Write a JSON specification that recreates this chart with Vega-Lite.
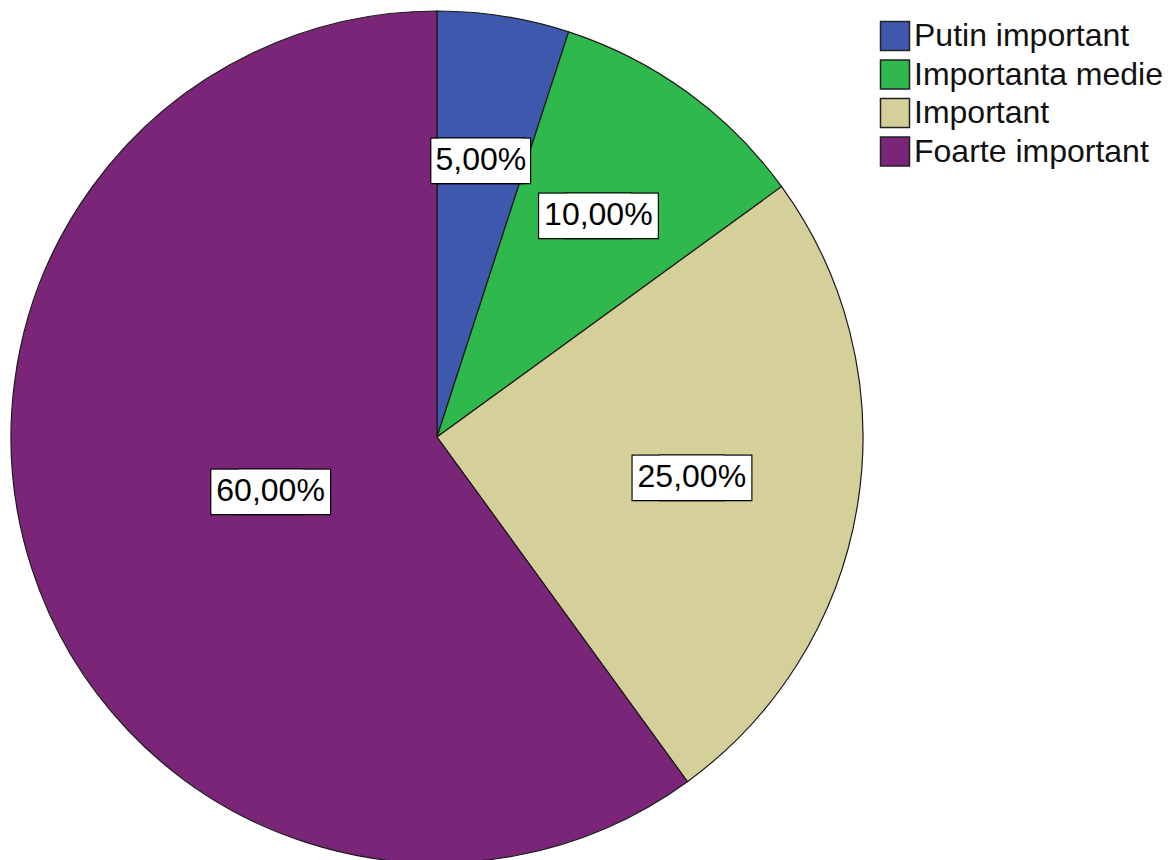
{
  "$schema": "https://vega.github.io/schema/vega-lite/v6.json",
  "width": 874,
  "height": 874,
  "padding": 0,
  "autosize": {"type": "pad"},
  "background": "white",
  "config": {"view": {"stroke": null}},
  "data": {
    "values": [
      {"categorie": "Putin important", "procent": 5, "eticheta": "5,00%", "ordine": 1},
      {"categorie": "Importanta medie", "procent": 10, "eticheta": "10,00%", "ordine": 2},
      {"categorie": "Important", "procent": 25, "eticheta": "25,00%", "ordine": 3},
      {"categorie": "Foarte important", "procent": 60, "eticheta": "60,00%", "ordine": 4}
    ]
  },
  "encoding": {
    "theta": {"field": "procent", "type": "quantitative", "stack": true},
    "order": {"field": "ordine", "type": "quantitative"}
  },
  "layer": [
    {
      "mark": {"type": "arc", "outerRadius": 426, "stroke": "#1a1a1a", "strokeWidth": 1.2},
      "encoding": {
        "color": {
          "field": "categorie",
          "type": "nominal",
          "scale": {
            "domain": ["Putin important", "Importanta medie", "Important", "Foarte important"],
            "range": ["#3d58ac", "#2fb84b", "#d5cf9a", "#7a2577"]
          },
          "legend": {
            "title": null,
            "orient": "none",
            "legendX": 879,
            "legendY": 20,
            "symbolType": "square",
            "symbolSize": 841,
            "symbolStrokeColor": "#222222",
            "symbolStrokeWidth": 1.5,
            "labelFont": "Liberation Sans",
            "labelFontSize": 32,
            "labelColor": "#111111",
            "labelLimit": 0,
            "labelOffset": 3,
            "rowPadding": 2.5
          }
        }
      }
    },
    {
      "encoding": {
        "radius": {"field": "procent", "type": "quantitative", "scale": {"type": "linear", "domain": [5, 25, 60], "range": [280, 258, 175], "zero": false}},
        "opacity": {"condition": {"test": "datum.procent != 5", "value": 1}, "value": 0}
      },
      "layer": [
        {"mark": {"type": "text", "text": "▬", "font": "DejaVu Sans", "fontSize": 120, "fill": "black", "stroke": "black", "strokeWidth": 2.4, "baseline": "middle", "align": "center", "dy": -4, "dx": -13.5}},
        {"mark": {"type": "text", "text": "▬", "font": "DejaVu Sans", "fontSize": 120, "fill": "black", "stroke": "black", "strokeWidth": 2.4, "baseline": "middle", "align": "center", "dy": -4, "dx": 13.5}},
        {"mark": {"type": "text", "text": "▬", "font": "DejaVu Sans", "fontSize": 120, "fill": "white", "baseline": "middle", "align": "center", "dy": -4, "dx": -13.5}},
        {"mark": {"type": "text", "text": "▬", "font": "DejaVu Sans", "fontSize": 120, "fill": "white", "baseline": "middle", "align": "center", "dy": -4, "dx": 13.5}}
      ]
    },
    {
      "encoding": {
        "radius": {"field": "procent", "type": "quantitative"},
        "opacity": {"condition": {"test": "datum.procent == 5", "value": 1}, "value": 0}
      },
      "layer": [
        {"mark": {"type": "text", "text": "▬", "font": "DejaVu Sans", "fontSize": 120, "fill": "black", "stroke": "black", "strokeWidth": 2.4, "baseline": "middle", "align": "center", "dy": -4, "dx": -3.5}},
        {"mark": {"type": "text", "text": "▬", "font": "DejaVu Sans", "fontSize": 120, "fill": "black", "stroke": "black", "strokeWidth": 2.4, "baseline": "middle", "align": "center", "dy": -4, "dx": 3.5}},
        {"mark": {"type": "text", "text": "▬", "font": "DejaVu Sans", "fontSize": 120, "fill": "white", "baseline": "middle", "align": "center", "dy": -4, "dx": -3.5}},
        {"mark": {"type": "text", "text": "▬", "font": "DejaVu Sans", "fontSize": 120, "fill": "white", "baseline": "middle", "align": "center", "dy": -4, "dx": 3.5}}
      ]
    },
    {
      "mark": {"type": "text", "font": "Liberation Sans", "fontSize": 32, "fill": "black", "baseline": "middle", "align": "center"},
      "encoding": {
        "text": {"field": "eticheta"},
        "radius": {"field": "procent", "type": "quantitative"}
      }
    }
  ]
}
